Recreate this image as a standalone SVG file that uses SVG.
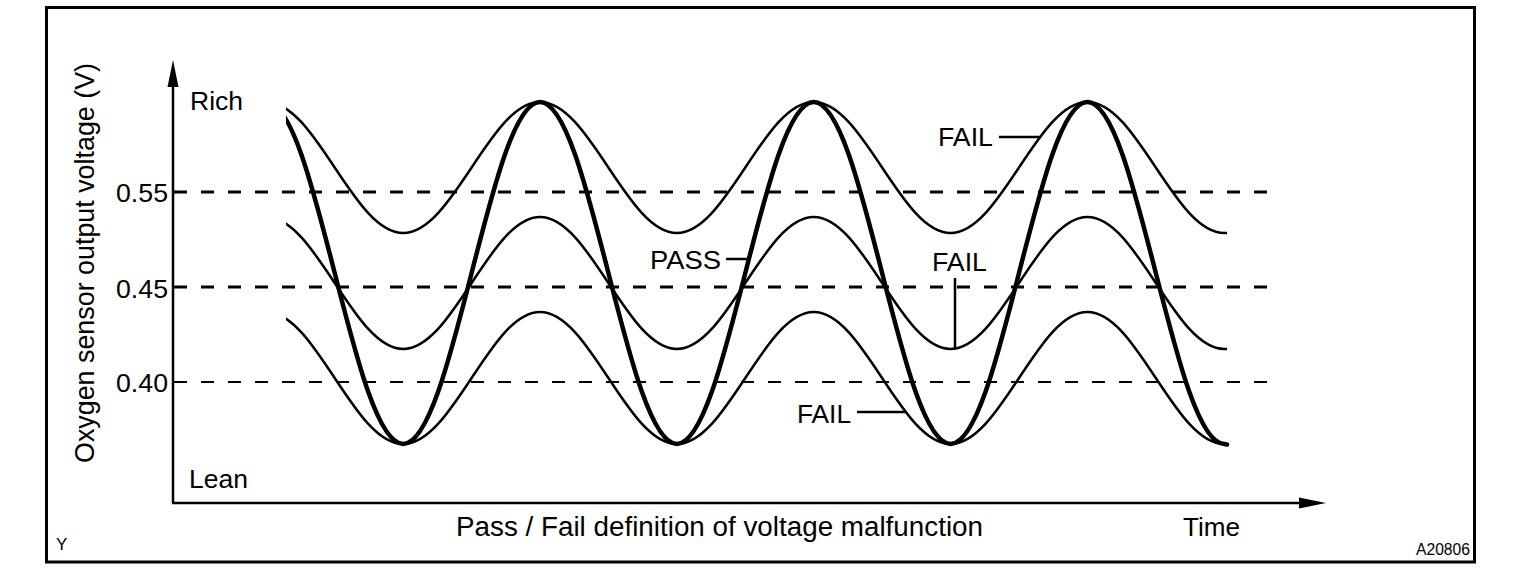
<svg xmlns="http://www.w3.org/2000/svg" width="1520" height="572" viewBox="0 0 1520 572">
<style>
text{font-family:"Liberation Sans",Arial,sans-serif;fill:#000}
.lbl{font-size:26px}
.tick{font-size:25px;text-anchor:end}
.axis{stroke:#000;stroke-width:2.5;fill:none}
.dash{stroke:#000;stroke-dasharray:13 14;fill:none}
.thin{stroke:#000;stroke-width:2.5;fill:none}
.thick{stroke:#000;stroke-width:4.5;fill:none;stroke-linecap:round}
.lead{stroke:#000;stroke-width:2.5;fill:none}
</style>
<defs>
<clipPath id="plotclip"><rect x="286" y="0" width="960" height="572"/></clipPath>
</defs>
<rect width="1520" height="572" fill="#fff"/>
<g id="frame"><rect x="46.5" y="7.5" width="1428" height="554.5" fill="none" stroke="#000" stroke-width="3"/></g>
<g id="gridlines">
<line class="dash" x1="174" y1="192" x2="1268" y2="192" stroke-width="3"/>
<line class="dash" x1="174" y1="287" x2="1268" y2="287" stroke-width="3"/>
<line class="dash" x1="174" y1="382" x2="1268" y2="382" stroke-width="2"/>
</g>
<g id="axes">
<line class="axis" x1="173" y1="503" x2="173" y2="80"/>
<polygon points="173,60 167.5,87 178.5,87" fill="#000"/>
<line class="axis" x1="172" y1="503" x2="1305" y2="503"/>
<polygon points="1326,503 1299,497.5 1299,508.5" fill="#000"/>
</g>
<g id="curves" clip-path="url(#plotclip)">
<path id="curve-pass" class="thick" d="M266.3,102 C291.1,102 312.4,185.4 334.7,273 C357.0,360.6 378.4,444 403.2,444 C427.9,444 449.3,360.6 471.6,273 C493.9,185.4 515.2,102 540,102 C564.8,102 586.1,185.4 608.4,273 C630.7,360.6 652.1,444 676.9,444 C701.6,444 723.0,360.6 745.3,273 C767.6,185.4 788.9,102 813.7,102 C838.5,102 859.8,185.4 882.1,273 C904.4,360.6 925.8,444 950.6,444 C975.3,444 996.7,360.6 1019.0,273 C1041.3,185.4 1062.6,102 1087.4,102 C1112.2,102 1133.5,185.4 1155.8,273 C1178.1,360.6 1199.5,444 1224.3,444 L1227,444.5"/>
<path id="curve-fail-high" class="thin" d="M266.3,102 C291.1,102 312.4,133.9 334.7,167.5 C357.0,201.1 378.4,233 403.2,233 C427.9,233 449.3,201.1 471.6,167.5 C493.9,133.9 515.2,102 540,102 C564.8,102 586.1,133.9 608.4,167.5 C630.7,201.1 652.1,233 676.9,233 C701.6,233 723.0,201.1 745.3,167.5 C767.6,133.9 788.9,102 813.7,102 C838.5,102 859.8,133.9 882.1,167.5 C904.4,201.1 925.8,233 950.6,233 C975.3,233 996.7,201.1 1019.0,167.5 C1041.3,133.9 1062.6,102 1087.4,102 C1112.2,102 1133.5,133.9 1155.8,167.5 C1178.1,201.1 1199.5,233 1224.3,233 L1227,233"/>
<path id="curve-fail-mid" class="thin" d="M266.3,217 C291.1,217 312.4,249.2 334.7,283 C357.0,316.8 378.4,349 403.2,349 C427.9,349 449.3,316.8 471.6,283 C493.9,249.2 515.2,217 540,217 C564.8,217 586.1,249.2 608.4,283 C630.7,316.8 652.1,349 676.9,349 C701.6,349 723.0,316.8 745.3,283 C767.6,249.2 788.9,217 813.7,217 C838.5,217 859.8,249.2 882.1,283 C904.4,316.8 925.8,349 950.6,349 C975.3,349 996.7,316.8 1019.0,283 C1041.3,249.2 1062.6,217 1087.4,217 C1112.2,217 1133.5,249.2 1155.8,283 C1178.1,316.8 1199.5,349 1224.3,349 L1227,349"/>
<path id="curve-fail-low" class="thin" d="M266.3,312 C291.1,312 312.4,344.2 334.7,378 C357.0,411.8 378.4,444 403.2,444 C427.9,444 449.3,411.8 471.6,378 C493.9,344.2 515.2,312 540,312 C564.8,312 586.1,344.2 608.4,378 C630.7,411.8 652.1,444 676.9,444 C701.6,444 723.0,411.8 745.3,378 C767.6,344.2 788.9,312 813.7,312 C838.5,312 859.8,344.2 882.1,378 C904.4,411.8 925.8,444 950.6,444 C975.3,444 996.7,411.8 1019.0,378 C1041.3,344.2 1062.6,312 1087.4,312 C1112.2,312 1133.5,344.2 1155.8,378 C1178.1,411.8 1199.5,444 1224.3,444 L1227,444"/>
</g>
<g id="leaders">
<line class="lead" x1="726" y1="259" x2="750" y2="259"/>
<line class="lead" x1="999" y1="137" x2="1041" y2="137"/>
<line class="lead" x1="955" y1="278" x2="955" y2="349"/>
<line class="lead" x1="857" y1="412" x2="905" y2="412"/>
</g>
<g id="axis-labels">
<text transform="translate(94,263) rotate(-90)" font-size="27" text-anchor="middle" textLength="400" lengthAdjust="spacingAndGlyphs">Oxygen sensor output voltage (V)</text>
<text class="lbl" x="190" y="110" textLength="53" lengthAdjust="spacingAndGlyphs">Rich</text>
<text class="lbl" x="189" y="488" textLength="59" lengthAdjust="spacingAndGlyphs">Lean</text>
<text class="tick" x="168" y="202" textLength="52" lengthAdjust="spacingAndGlyphs">0.55</text>
<text class="tick" x="168" y="298" textLength="52" lengthAdjust="spacingAndGlyphs">0.45</text>
<text class="tick" x="168" y="392" textLength="52" lengthAdjust="spacingAndGlyphs">0.40</text>
<text x="456" y="536" font-size="27" textLength="527" lengthAdjust="spacingAndGlyphs">Pass / Fail definition of voltage malfunction</text>
<text class="lbl" x="1183" y="536" textLength="57" lengthAdjust="spacingAndGlyphs">Time</text>
<text x="56" y="550" font-size="17">Y</text>
<text x="1416" y="555" font-size="16" textLength="54" lengthAdjust="spacingAndGlyphs">A20806</text>
</g>
<g id="curve-labels">
<text class="lbl" x="650" y="269" textLength="71" lengthAdjust="spacingAndGlyphs">PASS</text>
<text class="lbl" x="938" y="146" textLength="55" lengthAdjust="spacingAndGlyphs">FAIL</text>
<text class="lbl" x="932" y="271" textLength="55" lengthAdjust="spacingAndGlyphs">FAIL</text>
<text class="lbl" x="797" y="423" textLength="54" lengthAdjust="spacingAndGlyphs">FAIL</text>
</g>
</svg>
